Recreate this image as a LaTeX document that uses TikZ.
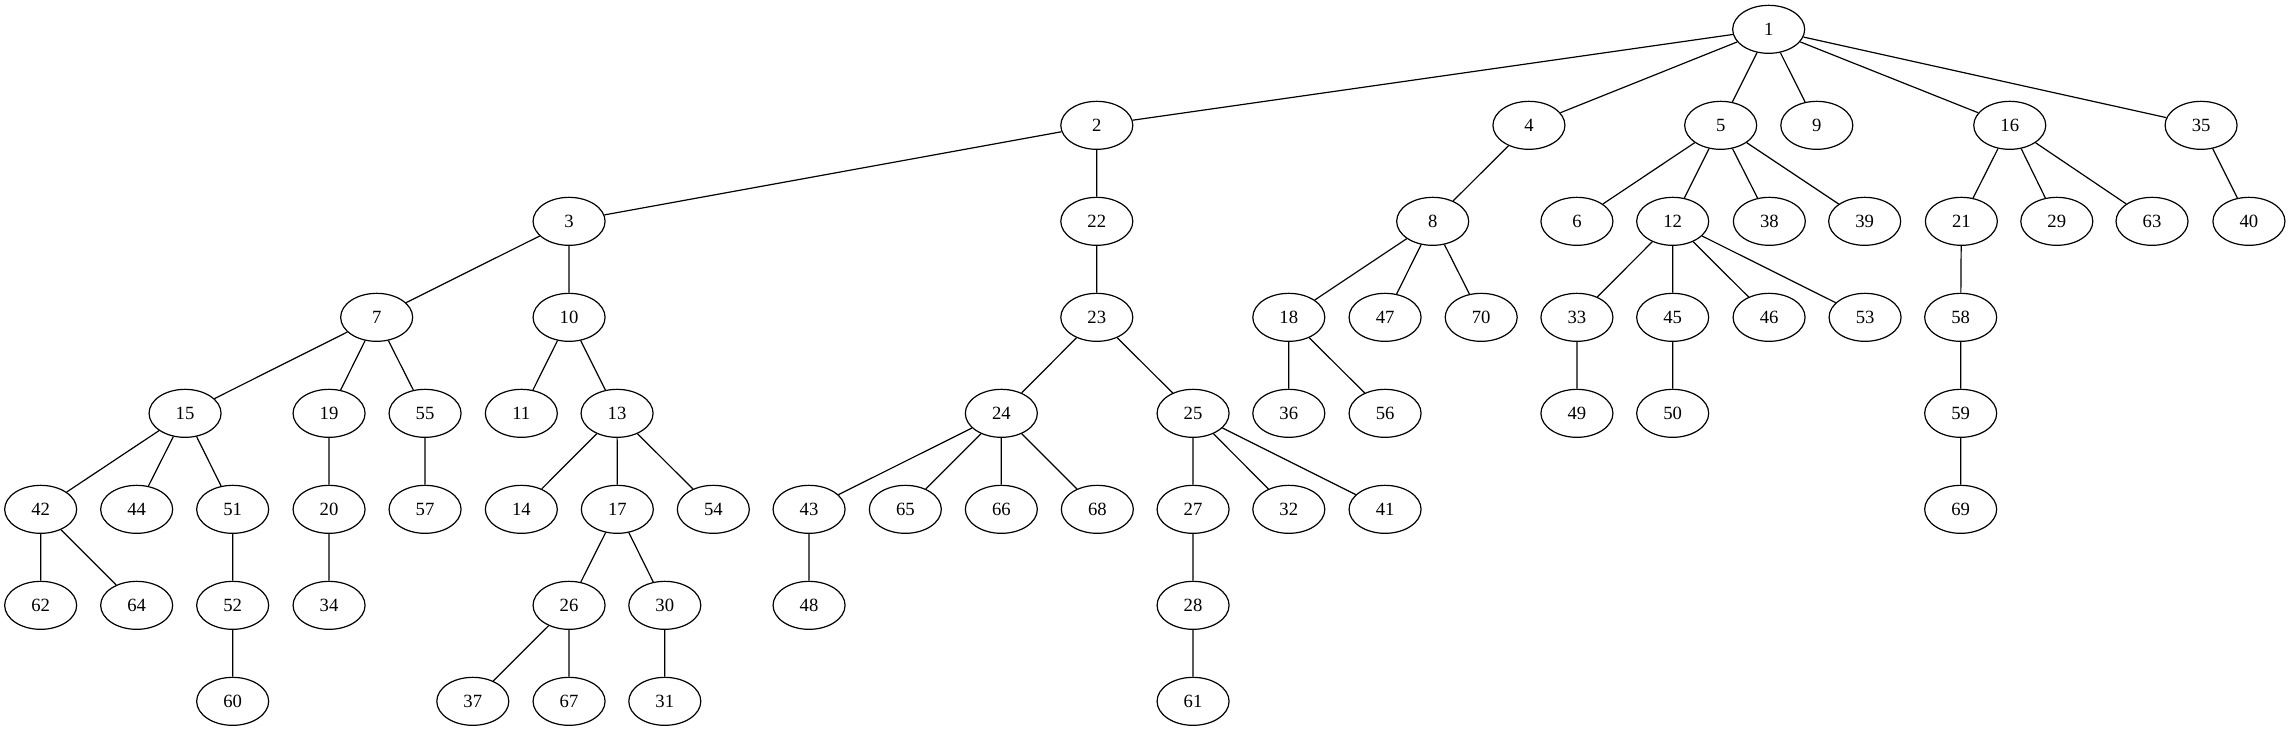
\documentclass[tikz,border=0pt]{standalone}
\usepackage{fontspec}
\setmainfont{Liberation Serif}
\usetikzlibrary{shapes.geometric}

\begin{document}
\begin{tikzpicture}[x=1pt, y=1pt, font=\fontsize{14}{16}\selectfont, vertex/.style={draw, ellipse, line width=0.9pt, minimum width=54pt, minimum height=36pt, inner sep=0pt}]
		\useasboundingbox (0,0) rectangle (1718.25,-548.25);
		% level 0 and 1
		\node[vertex] (v1) at (1326.5,-22) {1};
		\node[vertex] (v2) at (822.6,-94) {2};
		\node[vertex] (v4) at (1146.7,-94) {4};
		\node[vertex] (v5) at (1290.5,-94) {5};
		\node[vertex] (v9) at (1362.6,-94) {9};
		\node[vertex] (v16) at (1507.3,-94) {16};
		\node[vertex] (v35) at (1650.8,-94) {35};
		% level 2
		\node[vertex] (v3) at (426.8,-166) {3};
		\node[vertex] (v22) at (822.6,-166) {22};
		\node[vertex] (v8) at (1074.5,-166) {8};
		\node[vertex] (v6) at (1182.7,-166) {6};
		\node[vertex] (v12) at (1254.5,-166) {12};
		\node[vertex] (v38) at (1327,-166) {38};
		\node[vertex] (v39) at (1398.5,-166) {39};
		\node[vertex] (v21) at (1471,-166) {21};
		\node[vertex] (v29) at (1542.6,-166) {29};
		\node[vertex] (v63) at (1614,-166) {63};
		\node[vertex] (v40) at (1686.7,-166) {40};
		% level 3
		\node[vertex] (v7) at (282.5,-238) {7};
		\node[vertex] (v10) at (426.8,-238) {10};
		\node[vertex] (v23) at (822.6,-238) {23};
		\node[vertex] (v18) at (966.6,-238) {18};
		\node[vertex] (v47) at (1038.8,-238) {47};
		\node[vertex] (v70) at (1110.9,-238) {70};
		\node[vertex] (v33) at (1182.7,-238) {33};
		\node[vertex] (v45) at (1254.5,-238) {45};
		\node[vertex] (v46) at (1326.8,-238) {46};
		\node[vertex] (v53) at (1398.8,-238) {53};
		\node[vertex] (v58) at (1470.5,-238) {58};
		% level 4
		\node[vertex] (v15) at (138.8,-310) {15};
		\node[vertex] (v19) at (246.8,-310) {19};
		\node[vertex] (v55) at (318.8,-310) {55};
		\node[vertex] (v11) at (391,-310) {11};
		\node[vertex] (v13) at (462.8,-310) {13};
		\node[vertex] (v24) at (751,-310) {24};
		\node[vertex] (v25) at (894.8,-310) {25};
		\node[vertex] (v36) at (966.6,-310) {36};
		\node[vertex] (v56) at (1038.8,-310) {56};
		\node[vertex] (v49) at (1182.7,-310) {49};
		\node[vertex] (v50) at (1254.5,-310) {50};
		\node[vertex] (v59) at (1470.5,-310) {59};
		% level 5
		\node[vertex] (v42) at (30.5,-382) {42};
		\node[vertex] (v44) at (102.5,-382) {44};
		\node[vertex] (v51) at (174.5,-382) {51};
		\node[vertex] (v20) at (246.8,-382) {20};
		\node[vertex] (v57) at (318.8,-382) {57};
		\node[vertex] (v14) at (391,-382) {14};
		\node[vertex] (v17) at (463,-382) {17};
		\node[vertex] (v54) at (535,-382) {54};
		\node[vertex] (v43) at (606.8,-382) {43};
		\node[vertex] (v65) at (679,-382) {65};
		\node[vertex] (v66) at (751,-382) {66};
		\node[vertex] (v68) at (823,-382) {68};
		\node[vertex] (v27) at (894.8,-382) {27};
		\node[vertex] (v32) at (966.6,-382) {32};
		\node[vertex] (v41) at (1038.8,-382) {41};
		\node[vertex] (v69) at (1470.5,-382) {69};
		% level 6
		\node[vertex] (v62) at (30.5,-454) {62};
		\node[vertex] (v64) at (102.5,-454) {64};
		\node[vertex] (v52) at (174.5,-454) {52};
		\node[vertex] (v34) at (246.8,-454) {34};
		\node[vertex] (v26) at (426.8,-454) {26};
		\node[vertex] (v30) at (498.6,-454) {30};
		\node[vertex] (v48) at (606.8,-454) {48};
		\node[vertex] (v28) at (894.8,-454) {28};
		% level 7
		\node[vertex] (v60) at (174.5,-526) {60};
		\node[vertex] (v37) at (354.6,-526) {37};
		\node[vertex] (v67) at (426.8,-526) {67};
		\node[vertex] (v31) at (498.6,-526) {31};
		\node[vertex] (v61) at (894.8,-526) {61};
		% edges
		\draw[line width=0.9pt]
			(v1) -- (v2) (v1) -- (v4) (v1) -- (v5) (v1) -- (v9) (v1) -- (v16) (v1) -- (v35)
			(v2) -- (v3) (v2) -- (v22) (v4) -- (v8)
			(v5) -- (v6) (v5) -- (v12) (v5) -- (v38) (v5) -- (v39)
			(v16) -- (v21) (v16) -- (v29) (v16) -- (v63) (v35) -- (v40)
			(v3) -- (v7) (v3) -- (v10) (v22) -- (v23)
			(v8) -- (v18) (v8) -- (v47) (v8) -- (v70)
			(v12) -- (v33) (v12) -- (v45) (v12) -- (v46) (v12) -- (v53) (v21) -- (v58)
			(v7) -- (v15) (v7) -- (v19) (v7) -- (v55) (v10) -- (v11) (v10) -- (v13)
			(v23) -- (v24) (v23) -- (v25) (v18) -- (v36) (v18) -- (v56)
			(v33) -- (v49) (v45) -- (v50) (v58) -- (v59)
			(v15) -- (v42) (v15) -- (v44) (v15) -- (v51) (v19) -- (v20) (v55) -- (v57)
			(v13) -- (v14) (v13) -- (v17) (v13) -- (v54)
			(v24) -- (v43) (v24) -- (v65) (v24) -- (v66) (v24) -- (v68)
			(v25) -- (v27) (v25) -- (v32) (v25) -- (v41) (v59) -- (v69)
			(v42) -- (v62) (v42) -- (v64) (v51) -- (v52) (v20) -- (v34)
			(v17) -- (v26) (v17) -- (v30) (v43) -- (v48) (v27) -- (v28)
			(v52) -- (v60) (v26) -- (v37) (v26) -- (v67) (v30) -- (v31) (v28) -- (v61);
	\end{tikzpicture}
\end{document}
